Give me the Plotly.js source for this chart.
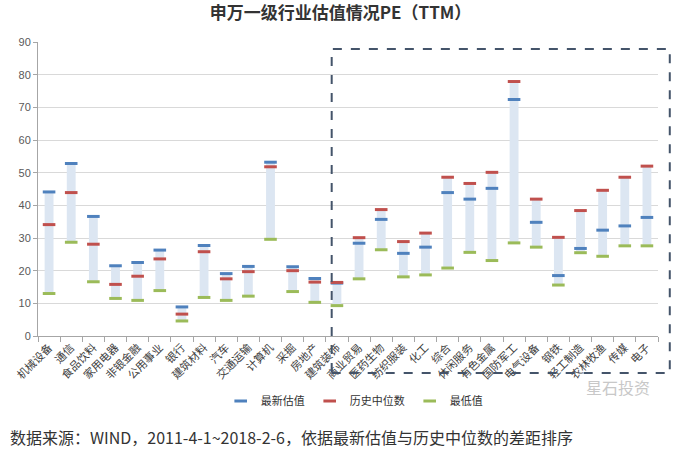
<!DOCTYPE html>
<html>
<head>
<meta charset="utf-8">
<script src="https://cdn.plot.ly/plotly-3.0.1.min.js"></script>
<style>html,body{margin:0;padding:0;background:#fff;}#chart{width:681px;height:454px;}</style>
</head>
<body>
<div id="chart"></div>
<script>
const categories = ["机械设备","通信","食品饮料","家用电器","非银金融","公用事业","银行","建筑材料","汽车","交通运输","计算机","采掘","房地产","建筑装饰","商业贸易","医药生物","纺织服装","化工","综合","休闲服务","有色金属","国防军工","电气设备","钢铁","轻工制造","农林牧渔","传媒","电子"];
const latest = [44.1,52.8,36.6,21.5,22.5,26.3,8.9,27.7,19.1,21.3,53.2,21.2,17.6,16.2,28.4,35.7,25.3,27.2,43.9,41.9,45.2,72.4,34.8,18.5,26.8,32.4,33.7,36.3];
const median = [34.1,43.9,28.1,15.8,18.3,23.6,6.7,25.8,17.5,19.7,51.8,20.0,16.5,16.4,30.1,38.7,28.9,31.5,48.6,46.7,50.1,77.9,41.9,30.2,38.4,44.6,48.6,52.0];
const lowest = [13.0,28.7,16.6,11.5,10.9,13.9,4.6,11.8,10.9,12.2,29.6,13.6,10.3,9.3,17.5,26.4,18.1,18.7,20.8,25.6,23.1,28.5,27.2,15.6,25.5,24.4,27.6,27.6];
const yTicks = [0,10,20,30,40,50,60,70,80,90];

const barTop = latest.map((v,i)=>Math.max(v, median[i]));
const barLen = barTop.map((v,i)=>v - lowest[i]);

const cjk = '"Noto Sans CJK SC", "Noto Sans", sans-serif';

function markTrace(name, vals, color){
  return {
    type:'scatter', mode:'markers', name:name, x:categories, y:vals,
    marker:{symbol:'line-ew-open', size:9, color:color, line:{width:3, color:color}},
    hoverinfo:'skip'
  };
}

const data = [
  {type:'bar', x:categories, y:barLen, base:lowest, width:0.4,
   marker:{color:'#DCE6F2', line:{width:0}}, showlegend:false, hoverinfo:'skip'},
  markTrace('最新估值', latest, '#4F81BD'),
  markTrace('历史中位数', median, '#C0504D'),
  markTrace('最低值', lowest, '#9BBB59')
];

const layout = {
  width:681, height:454,
  margin:{l:38, r:23, t:42, b:118},
  paper_bgcolor:'#fff', plot_bgcolor:'#fff',
  font:{family:cjk, color:'#404040'},
  title:{text:'<b>申万一级行业估值情况PE（TTM）</b>', x:0.5, xanchor:'center', y:0.985, yanchor:'top',
         font:{size:17, color:'#333', family:cjk}},
  showlegend:true,
  legend:{orientation:'h', x:0.51, xanchor:'center', y:-0.172, yanchor:'top',
          font:{size:11, color:'#333', family:cjk}, itemwidth:30, bgcolor:'rgba(0,0,0,0)'},
  xaxis:{type:'category', tickangle:-45, tickfont:{size:11, color:'#404040', family:cjk},
         ticks:'outside', tickson:'boundaries', ticklen:5, tickcolor:'#A6A6A6',
         showline:true, linecolor:'#A6A6A6', linewidth:1, showgrid:false,
         range:[-0.5, categories.length-0.5]},
  yaxis:{range:[0,90], tickvals:yTicks, ticks:'outside', ticklen:4, tickcolor:'#A6A6A6',
         showline:true, linecolor:'#A6A6A6', gridcolor:'#D9D9D9', zeroline:false,
         tickfont:{size:11, color:'#595959', family:'"Liberation Sans", Arial, sans-serif'}},
  bargap:0.6,
  shapes:[
    {type:'rect', xref:'paper', yref:'paper', x0:0.4737, x1:1.019, y0:-0.126, y1:0.976,
     line:{color:'#44546A', width:2, dash:'dash'}, fillcolor:'rgba(0,0,0,0)'}
  ],
  annotations:[
    {xref:'paper', yref:'paper', x:0.99, y:-0.175, xanchor:'right', yanchor:'middle', showarrow:false,
     text:'星石投资', font:{size:16, color:'#C8C8C8', family:cjk}},
    {xref:'paper', yref:'paper', x:-0.049, y:-0.345, xanchor:'left', yanchor:'middle', showarrow:false,
     text:'数据来源：WIND，2011-4-1~2018-2-6，依据最新估值与历史中位数的差距排序',
     font:{size:16, color:'#333', family:cjk}}
  ]
};

Plotly.newPlot('chart', data, layout, {staticPlot:true, displayModeBar:false});
</script>
</body>
</html>
